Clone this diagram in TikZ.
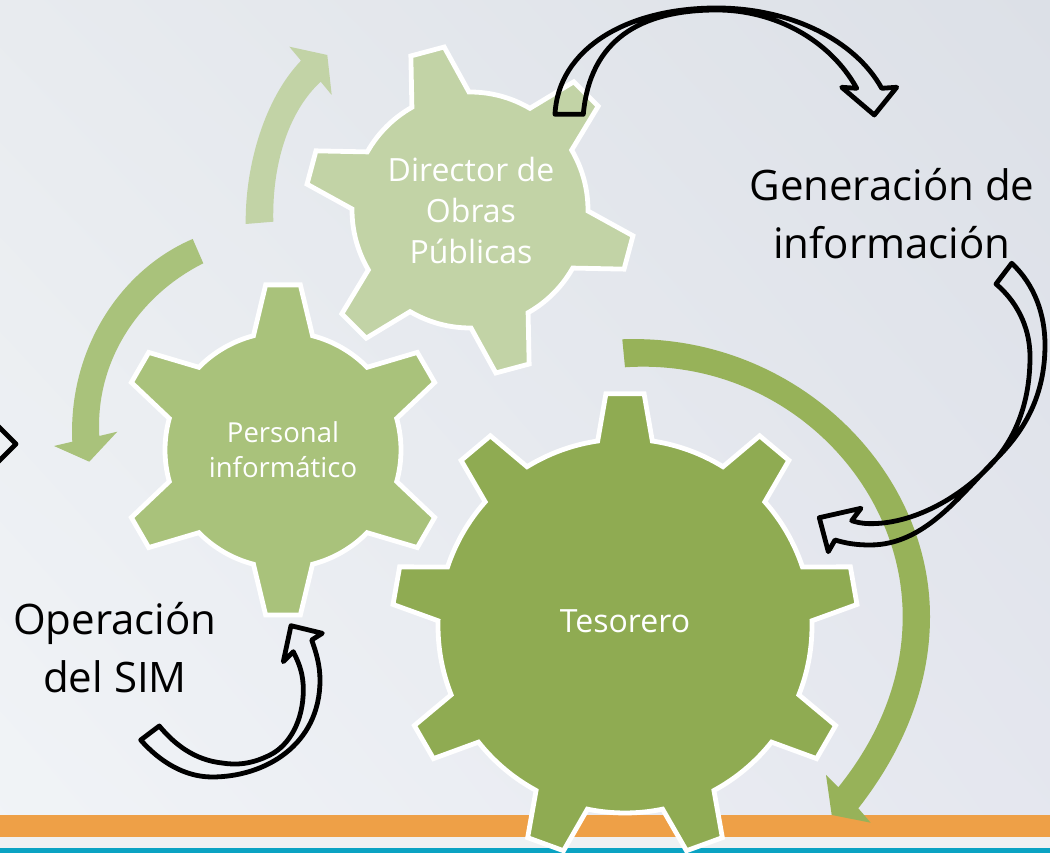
\documentclass[tikz,border=0pt]{standalone}
\usepackage{fontspec}
\setmainfont{Open Sans}
\usetikzlibrary{shadings}

\definecolor{gearDark}{HTML}{8FAB52}
\definecolor{gearMid}{HTML}{A9C27B}
\definecolor{gearLight}{HTML}{C2D3A6}
\definecolor{arrowDark}{HTML}{97B259}
\definecolor{bandOrange}{HTML}{EEA047}
\definecolor{bandTeal}{HTML}{0AA3C3}
\definecolor{bandGap}{HTML}{EEF1F3}
\definecolor{bgTopLeft}{HTML}{E8EBEF}
\definecolor{bgTopRight}{HTML}{DCE0E7}
\definecolor{bgLowLeft}{HTML}{F1F4F7}
\definecolor{bgLowRight}{HTML}{E5E7EF}

\tikzset{
  gearface/.style={draw=white, line width=4.8pt, miter limit=6},
  gearlabel/.style={text=white, align=center, font=\fontsize{32}{41}\selectfont},
  flowarrow/.style={line width=4.8pt, draw=black, line join=round},
  flowlabel/.style={text=black, align=center, font=\fontsize{42}{58}\selectfont}
}

% center x, center y, teeth, first angle, rim radius, tip radius, half base, half tip
\newcommand{\gearpath}[8]{
  ({#1+#5*cos(#4+#7)},{#2+#5*sin(#4+#7)})
  \foreach \t in {1,...,#3}{
    -- ({#1+#6*cos(#4-(\t-1)*360/#3+#8)},{#2+#6*sin(#4-(\t-1)*360/#3+#8)})
    -- ({#1+#6*cos(#4-(\t-1)*360/#3-#8)},{#2+#6*sin(#4-(\t-1)*360/#3-#8)})
    -- ({#1+#5*cos(#4-(\t-1)*360/#3-#7)},{#2+#5*sin(#4-(\t-1)*360/#3-#7)})
    arc[start angle={#4-(\t-1)*360/#3-#7}, delta angle={-360/#3+2*#7}, radius=#5]
  } -- cycle
}

\begin{document}
\begin{tikzpicture}[x=1pt,y=1pt]
  \useasboundingbox (0,0) rectangle (1050,853);
  \shade[upper left=bgTopLeft, upper right=bgTopRight, lower left=bgLowLeft, lower right=bgLowRight]
    (0,0) rectangle (1050,853);

  % bands
  \fill[bandGap] (0,5) rectangle (1050,16);
  \fill[bandOrange] (0,16) rectangle (1050,38);
  \fill[bandTeal] (0,0) rectangle (1050,5);

  % gears
  \draw[gearface, fill=gearLight] \gearpath{470}{643}{6}{105}{118}{165}{14.5}{6};
  \draw[gearface, fill=gearMid] \gearpath{283}{403}{6}{90}{118}{166}{14.5}{6};
  \draw[gearface, fill=gearDark] \gearpath{625}{227}{9}{90}{187}{233}{8.4}{4.7};

  \node[gearlabel] (director) at (471,642) {Director de\\Obras\\Públicas};
  \node[gearlabel, font=\fontsize{27.5}{35}\selectfont] (personal) at (283,403) {Personal\\informático};
  \node[gearlabel] (tesorero) at (625,232) {Tesorero};

  \node[flowlabel] (generacion) at (892,639) {Generación de\\información};
  \node[flowlabel] (operacion) at (115,205) {Operación\\del SIM};

  % arrows, in screen coordinates
  \begin{scope}[shift={(0,853)}, y=-1pt]
    \fill[gearLight] (245.7,224) .. controls (245,165) and (265,98) .. (301,60.7)
      -- (289.3,46.7) -- (327.3,55) -- (331.7,95) -- (320.7,81.7)
      .. controls (288,112) and (272,165) .. (273.3,221.7) -- cycle;
    \fill[gearMid] (192.7,239) .. controls (120,270) and (68,350) .. (72.3,441.7)
      -- (54,446) -- (89.3,461.7) -- (117.3,431.7) -- (99.3,436)
      .. controls (95,360) and (140,295) .. (203.3,263.3) -- cycle;
    \fill[arrowDark] (622.3,339.3) .. controls (792,333) and (930,466) .. (930,616.7)
      .. controls (930,690) and (900,755) .. (858.3,808.3)
      -- (870.7,822.7) -- (831.7,815) -- (826,775) -- (838.3,787.3)
      .. controls (878,738) and (902.7,680) .. (902.7,616.7)
      .. controls (902.7,480) and (780,357) .. (625,367.3) -- cycle;

    \draw[flowarrow] (555,114.3) .. controls (558,50) and (625,8) .. (716.7,8)
      .. controls (790,8) and (855,40) .. (881.7,88.3)
      -- (896.7,87.3) -- (874.3,115) -- (841.7,87.3) -- (856.7,88.3)
      .. controls (830,40) and (775,10) .. (716.7,10)
      .. controls (640,10) and (590,40) .. (583.3,114.3) -- cycle;
    \draw[flowarrow] (1011.7,263.3) .. controls (1035,285) and (1045,315) .. (1045,345)
      .. controls (1045,395) and (1025,430) .. (996.7,458.3)
      .. controls (960,495) and (925,545) .. (870,545)
      .. controls (855,545) and (845,543) .. (835,540)
      -- (828.3,551.7) -- (819.3,517.7) -- (861,508.3) -- (851.7,520.7)
      .. controls (862,524) and (870,524) .. (880,523.3)
      .. controls (920,520) and (965,495) .. (996.7,458.3)
      .. controls (1020,430) and (1030,395) .. (1030,356.7)
      .. controls (1030,325) and (1015,300) .. (996,284) -- cycle;
    \draw[flowarrow] (140.7,740) .. controls (160,762) and (185,777) .. (212,777)
      .. controls (265,777) and (320,745) .. (320,680)
      .. controls (320,665) and (316,652) .. (311.7,640)
      -- (322.3,633.3) -- (291,625.7) -- (283.3,661.7) -- (293.3,651.7)
      .. controls (300,665) and (303.3,675) .. (303.3,690)
      .. controls (303.3,720) and (290,745) .. (270,755)
      .. controls (250,765) and (235,765) .. (222,763)
      .. controls (195,760) and (175,745) .. (159.3,726) -- cycle;
    \draw[flowarrow] (-3,425) -- (16,444) -- (-3,463);
  \end{scope}
\end{tikzpicture}
\end{document}
